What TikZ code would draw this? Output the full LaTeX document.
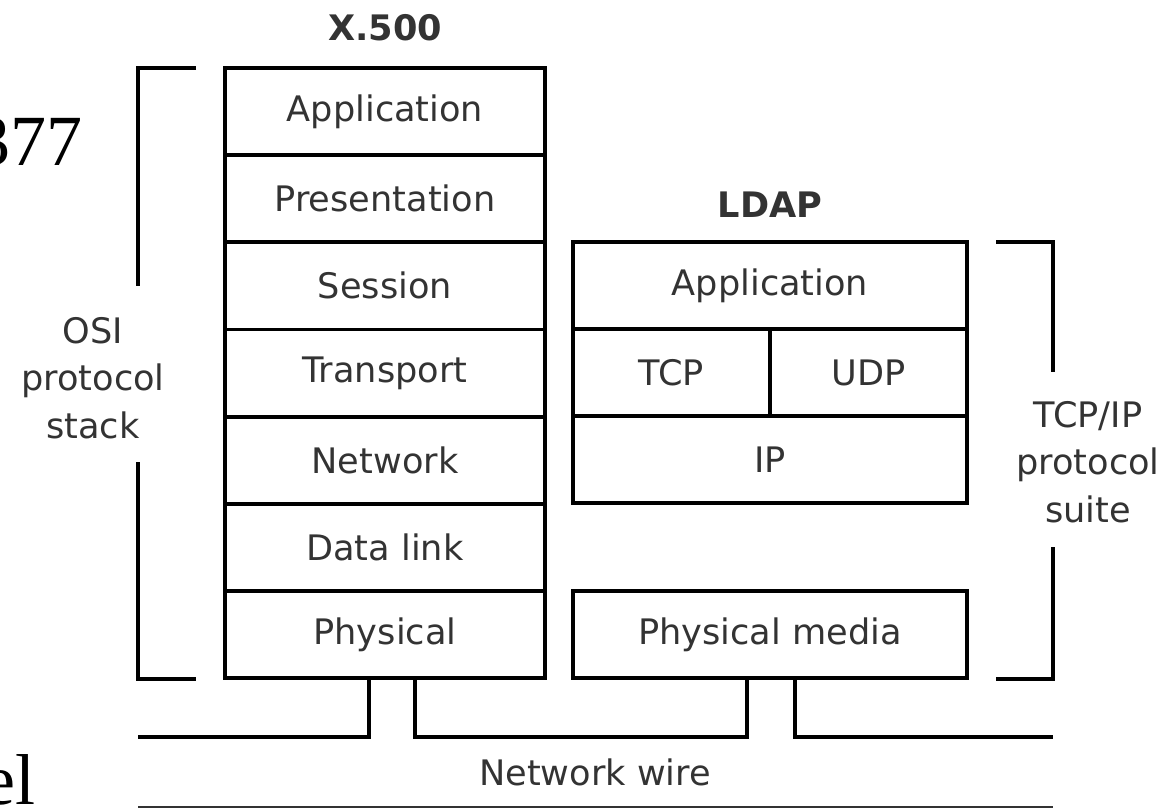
\documentclass[tikz,border=0pt]{standalone}
\usepackage{fontspec}
\setmainfont{DejaVu Sans}
\newfontfamily\slideserif{Liberation Serif}
\usetikzlibrary{positioning}

\definecolor{inkgray}{HTML}{333333}

\tikzset{
  layer/.style={draw, line width=2.2pt, inner sep=0pt, outer sep=0pt,
    minimum height=1.743cm, text=inkgray, font=\fontsize{20}{24}\selectfont},
  osilayer/.style={layer, minimum width=6.4cm},
  iplayer/.style={layer, minimum width=7.88cm},
  halflayer/.style={layer, minimum width=3.94cm},
  stacktitle/.style={text=inkgray, font=\fontsize{20}{24}\selectfont\bfseries},
  sidenote/.style={text=inkgray, align=center, font=\fontsize{20}{27}\selectfont},
  bracket/.style={line width=2.2pt},
  wire/.style={line width=2.2pt},
  slidetext/.style={anchor=base east, inner sep=0pt,
    font=\slideserif\fontsize{41}{48}\selectfont}
}

\begin{document}
\begin{tikzpicture}[x=0.02cm, y=-0.02cm]
  \useasboundingbox (0,0) rectangle (1171,809);

  % slide text cut off at the left
  \node[slidetext] (rfc) at (83,165) {377};
  \node[slidetext] (model) at (36,804) {el};

  % X.500 over the OSI stack
  \node[stacktitle] (xtitle) at (385,28) {X.500};
  \node[osilayer] (app) at (385,111.6) {Application};
  \node[osilayer, below=0pt of app] (pres) {Presentation};
  \node[osilayer, below=0pt of pres] (sess) {Session};
  \node[osilayer, below=0pt of sess] (trans) {Transport};
  \node[osilayer, below=0pt of trans] (net) {Network};
  \node[osilayer, below=0pt of net] (link) {Data link};
  \node[osilayer, below=0pt of link] (phys) {Physical};

  % LDAP over TCP/IP
  \node[stacktitle] (ltitle) at (770,205) {LDAP};
  \node[iplayer] (lapp) at (770,285.5) {Application};
  \node[halflayer, anchor=north west] (tcp) at (lapp.south west) {TCP};
  \node[halflayer, anchor=north east] (udp) at (lapp.south east) {UDP};
  \node[iplayer, anchor=north] (ip) at (tcp.south -| lapp) {IP};
  \node[iplayer] (media) at (phys -| lapp) {Physical media};

  % side brackets
  \node[sidenote] (osinote) at (93,378) {OSI\\protocol\\stack};
  \draw[bracket] (196,68) -| (138,286);
  \draw[bracket] (138,462) |- (196,679);

  \node[sidenote] (ipnote) at (1088,462) {TCP/IP\\protocol\\suite};
  \draw[bracket] (996,242) -| (1053,372);
  \draw[bracket] (1053,547) |- (996,679);

  % network wire
  \coordinate (wireW) at (138,737);
  \coordinate (wireE) at (1053,737);
  \coordinate[xshift=-0.32cm] (physL) at (phys.south);
  \coordinate[xshift=0.6cm] (physR) at (phys.south);
  \coordinate[xshift=-0.46cm] (mediaL) at (media.south);
  \coordinate[xshift=0.5cm] (mediaR) at (media.south);

  \draw[wire] (physL) |- (wireW);
  \draw[wire] (physR) |- (mediaL |- wireW) -- (mediaL);
  \draw[wire] (mediaR) |- (wireE);

  \node[text=inkgray, font=\fontsize{20}{24}\selectfont] (wirelbl) at (595,772) {Network wire};
  \draw[line width=0.9pt, inkgray] (138,807) -- (1053,807);
\end{tikzpicture}
\end{document}
